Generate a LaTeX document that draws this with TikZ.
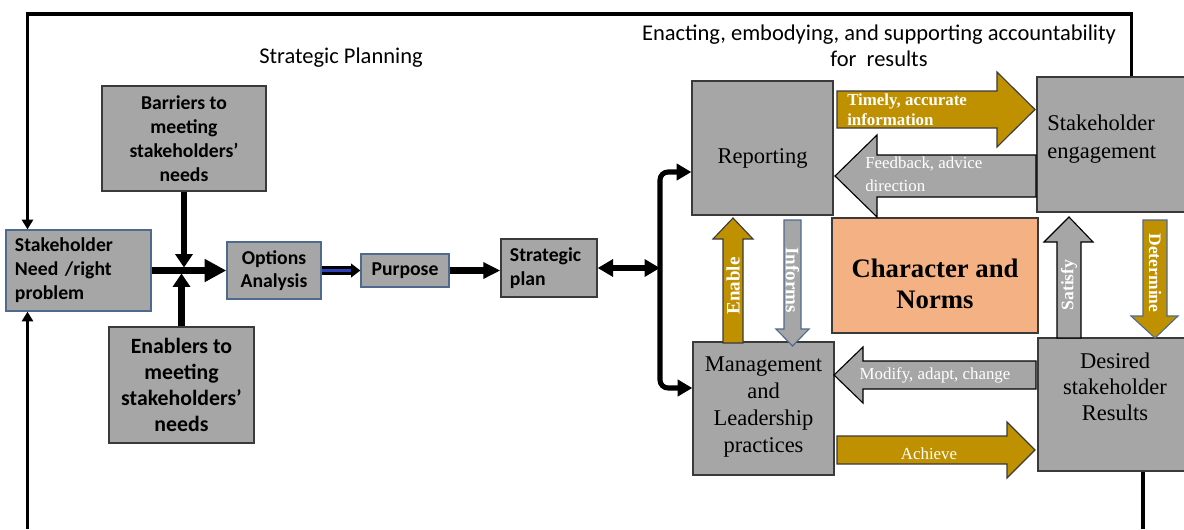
\documentclass[tikz,border=0pt]{standalone}
\usepackage{fontspec}
\newfontfamily\calibri{Carlito}
\newfontfamily\timesrm{Liberation Serif}
\usepackage{tikz}
\usetikzlibrary{arrows.meta, positioning}

\definecolor{boxgray}{HTML}{A6A6A6}
\definecolor{gold}{HTML}{BF9000}
\definecolor{peach}{HTML}{F4B183}
\definecolor{slate}{HTML}{4F6A8F}
\definecolor{edge}{HTML}{3A3A3A}

\begin{document}
\begin{tikzpicture}[x=0.025cm, y=-0.025cm,
      every node/.style={inner sep=0pt},
      box/.style={draw=edge, line width=0.9pt, fill=boxgray},
      bluebox/.style={box, draw=slate},
      sanslbl/.style={font=\calibri\bfseries\fontsize{14}{17}\selectfont, align=center},
      seriflbl/.style={font=\timesrm\fontsize{16}{19.2}\selectfont, align=center},
      title/.style={font=\calibri\fontsize{16}{18.5}\selectfont, align=center},
      flow/.style={line width=4.3pt, -{Triangle[length=9.5pt,width=12pt]}},
      bracket/.style={line width=3.6pt, rounded corners=0.2cm,
        {Triangle[length=10.5pt,width=11.5pt]}-{Triangle[length=10.5pt,width=11.5pt]}},
      dbl/.style={draw=black, double=slate!60!blue, double distance=2pt, line width=2.2pt,
        -{Triangle[length=6.5pt,width=9.5pt]}},
      loopline/.style={line width=2.4pt, -{Triangle[length=7pt,width=8pt]}},
      goldarrow/.style={fill=gold, draw=edge, line width=0.8pt},
      grayarrow/.style={fill=boxgray, draw=black, line width=0.8pt},
      arrowlbl/.style={text=white, font=\timesrm\fontsize{12}{16.5}\selectfont},
      vlbl/.style={text=white, font=\timesrm\bfseries\fontsize{13.5}{16}\selectfont}
    ]
    \useasboundingbox (0,0) rectangle (1184,529);

    % Titles
    \node[title] (plantitle) at (341,58) {Strategic Planning};
    \node[title] (enacttitle) at (879,46) {Enacting, embodying, and supporting accountability\\for\ \ results};

    % Strategic planning side
    \node[bluebox, sanslbl, align=left, text width=3.175cm, inner xsep=0.225cm, minimum height=2.025cm] (need) at (78.5,270.5) {Stakeholder\\Need /right\\problem};
    \node[box, sanslbl, minimum width=4.1cm, minimum height=2.625cm] (barriers) at (184,138.5) {Barriers to\\meeting\\stakeholders’\\needs};
    \node[box, sanslbl, font=\calibri\bfseries\fontsize{15.5}{18.4}\selectfont, minimum width=3.625cm, minimum height=2.9cm] (enablers) at (181.5,385) {Enablers to\\meeting\\stakeholders’\\needs};
    \node[bluebox, sanslbl, font=\calibri\bfseries\fontsize{14}{16.3}\selectfont, minimum width=2.35cm, minimum height=1.425cm] (options) at (274,270.5) {Options\\Analysis};
    \node[bluebox, sanslbl, minimum width=2.2cm, minimum height=0.825cm] (purpose) at (405,270.5) {Purpose};
    \node[box, sanslbl, align=left, text width=1.95cm, inner xsep=0.225cm, minimum height=1.45cm] (plan) at (549,268) {Strategic\\plan};

    % Accountability side
    \node[box, minimum width=3.525cm, minimum height=3.35cm] (report) at (762.5,148) {};
    \node[seriflbl] (reporttxt) at (762.5,158) {Reporting};
    \node[box, minimum width=3.525cm, minimum height=3.325cm] (manage) at (763.5,408.5) {};
    \node[seriflbl] (managetxt) at (763.5,407) {Management\\and\\Leadership\\practices};
    \node[box, minimum width=3.875cm, minimum height=3.375cm] (engage) at (1114.5,144.5) {};
    \node[seriflbl, align=left, anchor=west, font=\timesrm\fontsize{16}{20}\selectfont] (engagetxt) at (1047,139.5) {Stakeholder\\engagement};
    \node[box, minimum width=3.85cm, minimum height=3.325cm] (results) at (1115,404.5) {};
    \node[seriflbl, font=\timesrm\fontsize{16}{18.5}\selectfont] (resultstxt) at (1115,387) {Desired\\stakeholder\\Results};
    \node[box, fill=peach, minimum width=5.15cm, minimum height=2.875cm] (norms) at (935,275.5) {};
    \node[font=\timesrm\bfseries\fontsize{19}{22}\selectfont, align=center] (normstxt) at (935,284) {Character and\\Norms};

    % Block arrows
    \draw[goldarrow] (837,91) -- (997,91) -- (997,72) -- (1035,109.5) -- (997,147) -- (997,128) -- (837,128) -- cycle;
    \node[arrowlbl, font=\timesrm\bfseries\fontsize{12}{14}\selectfont, align=left, anchor=west] (timely) at (847,110) {Timely, accurate\\information};
    \draw[grayarrow] (1036,155) -- (877,155) -- (877,135) -- (835,176) -- (877,217) -- (877,197) -- (1036,197) -- cycle;
    \node[arrowlbl, align=left, anchor=west] (feedback) at (865,174) {Feedback, advice\\direction};
    \draw[grayarrow] (1036,361) -- (863,361) -- (863,347) -- (834,375) -- (863,403) -- (863,389) -- (1036,389) -- cycle;
    \node[arrowlbl] (modify) at (935,375) {Modify, adapt, change};
    \draw[goldarrow] (837,436) -- (1007,436) -- (1007,422) -- (1035,450) -- (1007,478) -- (1007,464) -- (837,464) -- cycle;
    \node[arrowlbl] (achieve) at (929,454) {Achieve};

    \draw[goldarrow] (723,343) -- (723,239) -- (713,239) -- (733,218) -- (753,239) -- (743,239) -- (743,343) -- cycle;
    \node[vlbl, rotate=90] (enable) at (733,286) {Enable};
    \draw[grayarrow, draw=slate] (784,220) -- (801,220) -- (801,329) -- (809,329) -- (792.5,346) -- (776,329) -- (784,329) -- cycle;
    \node[vlbl, rotate=-90] (informs) at (792.5,280) {Informs};
    \draw[grayarrow] (1057,338) -- (1057,242) -- (1044,242) -- (1069,217) -- (1093,242) -- (1081,242) -- (1081,338) -- cycle;
    \node[vlbl, font=\timesrm\bfseries\fontsize{12.5}{15}\selectfont, rotate=90] (satisfy) at (1069,285) {Satisfy};
    \draw[goldarrow, draw=slate] (1143,220) -- (1167,220) -- (1167,316) -- (1178,316) -- (1155,338) -- (1131,316) -- (1143,316) -- cycle;
    \node[vlbl, font=\timesrm\bfseries\fontsize{12.5}{15}\selectfont, rotate=-90] (determine) at (1155,273) {Determine};

    % Arrows
    \coordinate (join) at (183,270.5);
    \coordinate (split) at (660,270);
    \draw[flow, -{Triangle[length=15.5pt,width=15.5pt]}] (need) -- (options);
    \draw[flow, shorten >=2.1pt] (barriers) -- (barriers |- join);
    \draw[flow, shorten >=2.1pt] (enablers) -- (enablers |- join);
    \draw[dbl] (options) -- (purpose);
    \draw[flow, -{Triangle[length=12pt,width=11pt]}] (purpose) -- (purpose -| plan.west);
    \draw[line width=4pt, {Triangle[length=11pt,width=12pt]}-{Triangle[length=11pt,width=12pt]}] (plan) -- (plan -| split);
    \draw[bracket] ([yshift=-0.6cm]report.west) -| (split) |- ([yshift=0.5125cm]manage.west);

    % Feedback loop round the whole cycle
    \coordinate (ltop) at (27.5,14);
    \coordinate (rtop) at (1131.5,14);
    \coordinate (lbot) at (27.5,529);
    \coordinate (rbot) at (1143,529);
    \draw[loopline] (rtop |- engage.north) -- (rtop) -- (ltop) -- (ltop |- need.north);
    \draw[loopline] (lbot) -- (lbot |- need.south);
    \draw[loopline, -] (rbot |- results.south) -- (rbot);

\end{tikzpicture}
\end{document}
